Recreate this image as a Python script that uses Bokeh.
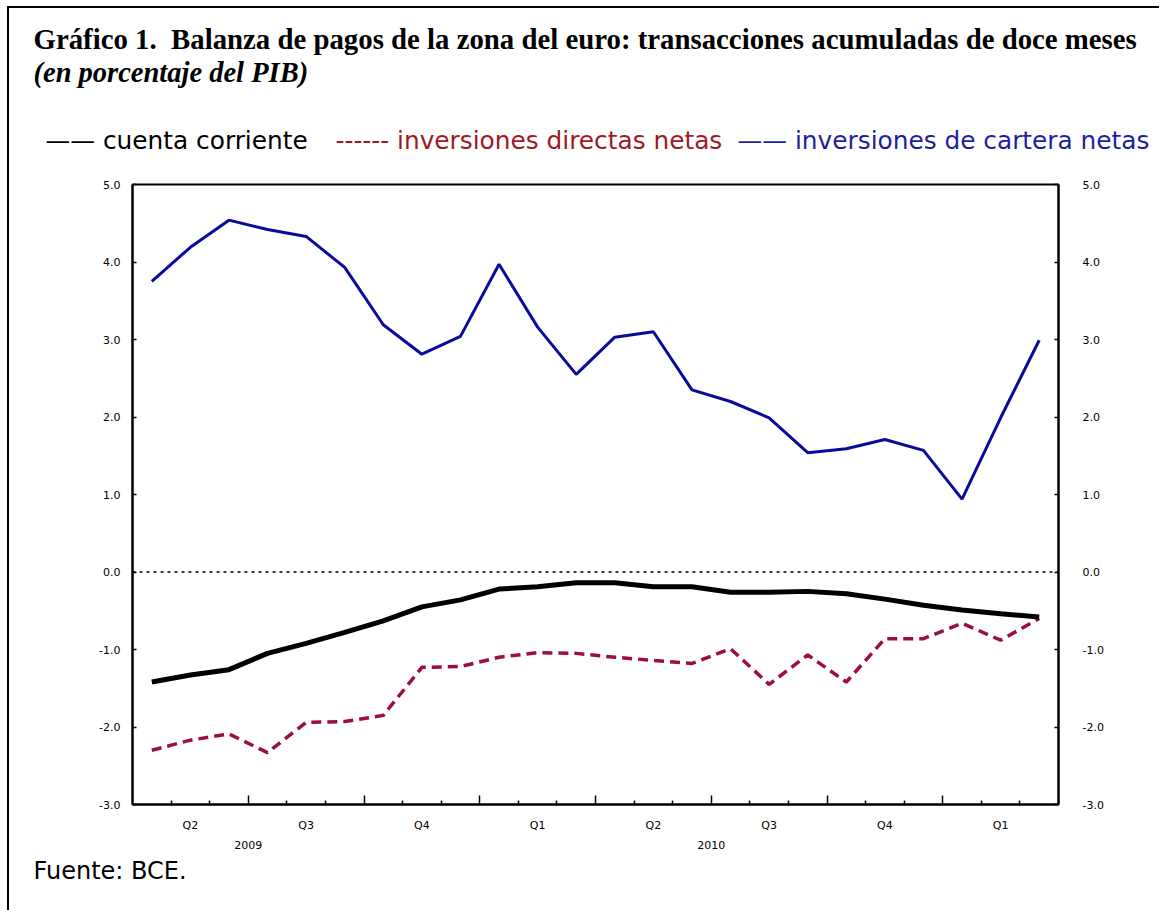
from bokeh.plotting import figure
from bokeh.layouts import column
from bokeh.models import LinearAxis, FixedTicker, Span, Label, Range1d, NumeralTickFormatter
from bokeh.embed import file_html
from bokeh.resources import INLINE

# ---- data (12-month cumulated transactions, % of GDP) ----
meses = ["abr-09", "may-09", "jun-09", "jul-09", "ago-09", "sep-09", "oct-09", "nov-09",
         "dic-09", "ene-10", "feb-10", "mar-10", "abr-10", "may-10", "jun-10", "jul-10",
         "ago-10", "sep-10", "oct-10", "nov-10", "dic-10", "ene-11", "feb-11", "mar-11"]
cuenta_corriente = [-1.42, -1.33, -1.26, -1.05, -0.92, -0.78, -0.63, -0.45,
                    -0.36, -0.22, -0.19, -0.14, -0.14, -0.19, -0.19, -0.26,
                    -0.26, -0.25, -0.28, -0.35, -0.43, -0.49, -0.54, -0.58]
inversiones_directas = [-2.30, -2.17, -2.09, -2.33, -1.94, -1.93, -1.85, -1.23,
                        -1.22, -1.10, -1.04, -1.05, -1.10, -1.14, -1.18, -0.99,
                        -1.45, -1.07, -1.42, -0.86, -0.86, -0.66, -0.88, -0.60]
inversiones_cartera = [3.75, 4.19, 4.54, 4.42, 4.33, 3.93, 3.19, 2.81,
                       3.04, 3.97, 3.16, 2.55, 3.03, 3.10, 2.35, 2.20,
                       1.99, 1.54, 1.59, 1.71, 1.57, 0.94, 1.99, 2.99]
trimestres = ["Q2", "Q3", "Q4", "Q1", "Q2", "Q3", "Q4", "Q1"]
anios = ["2009", "2010"]
y_ticks = [-3, -2, -1, 0, 1, 2, 3, 4, 5]

titulo = "Gráfico 1.\u00a0 Balanza de pagos de la zona del euro: transacciones acumuladas de doce meses"
subtitulo = "(en porcentaje del PIB)"
leyenda = ["—— cuenta corriente", "------ inversiones directas netas",
           "—— inversiones de cartera netas"]
colores_leyenda = ["black", "#9e1a1f", "#1f1f9e"]
fuente = "Fuente: BCE."

n = len(meses)
x = [i + 0.5 for i in range(n)]  # mid-month positions

W = 1150
TICK_FONT = "DejaVu Sans"


def blank(height):
    f = figure(width=W, height=height, output_backend="svg", toolbar_location=None,
               x_range=Range1d(0, W), y_range=Range1d(height, 0),
               x_axis_type=None, y_axis_type=None, min_border=0)
    f.outline_line_color = None
    f.background_fill_color = "white"
    f.border_fill_color = "white"
    f.frame_align = False
    return f


def lab(f, txt, px, py, font, size, color="black", style="normal"):
    f.add_layout(Label(x=px, y=py, text=txt, text_font=font, text_font_size=size,
                       text_color=color, text_font_style=style,
                       text_align="left", text_baseline="middle"))


# ---- header ----
header = blank(162)
lab(header, titulo, 24, 30, "Liberation Serif", "28.8px", style="bold")
lab(header, subtitulo, 24, 64, "Liberation Serif", "28.5px", style="bold italic")
for txt, col, px in zip(leyenda, colores_leyenda, [36, 326, 728]):
    lab(header, txt, px, 132, "DejaVu Sans", "24.8px", col)

# ---- main chart ----
p = figure(width=W, height=682, output_backend="svg", toolbar_location=None,
           x_range=Range1d(0, n), y_range=Range1d(-3, 5),
           x_axis_type=None, y_axis_type=None,
           min_border_left=123, min_border_right=101,
           min_border_top=14, min_border_bottom=48)
p.outline_line_color = "black"
p.outline_line_width = 2
p.background_fill_color = "white"
p.border_fill_color = "white"
p.frame_align = False

quarter_bounds = list(range(3, n, 3))
month_minor = [m for m in range(1, n) if m % 3]
ax_ticks = LinearAxis(ticker=FixedTicker(ticks=quarter_bounds, minor_ticks=month_minor),
                      major_tick_in=9, major_tick_out=0, minor_tick_in=4, minor_tick_out=0,
                      major_label_overrides={m: "" for m in quarter_bounds},
                      major_label_text_font_size="1px", major_label_standoff=0,
                      axis_line_width=2, major_tick_line_width=1.5, minor_tick_line_width=1.5)
p.add_layout(ax_ticks, "below")

q_pos = [1.5 + 3 * k for k in range(len(trimestres))]
ax_q = LinearAxis(ticker=FixedTicker(ticks=q_pos, minor_ticks=[]),
                  major_label_overrides={q: t for q, t in zip(q_pos, trimestres)},
                  axis_line_color=None, major_tick_line_color=None, minor_tick_line_color=None,
                  major_label_standoff=8, major_label_text_font=TICK_FONT,
                  major_label_text_font_size="11px", major_label_text_color="black")
p.add_layout(ax_q, "below")

y_pos = [3, 15]
ax_y = LinearAxis(ticker=FixedTicker(ticks=y_pos, minor_ticks=[]),
                  major_label_overrides={v: t for v, t in zip(y_pos, anios)},
                  axis_line_color=None, major_tick_line_color=None, minor_tick_line_color=None,
                  major_label_standoff=0, major_label_text_font=TICK_FONT,
                  major_label_text_font_size="11px", major_label_text_color="black")
p.add_layout(ax_y, "below")

for side in ("left", "right"):
    ax = LinearAxis(ticker=FixedTicker(ticks=y_ticks, minor_ticks=[]),
                    formatter=NumeralTickFormatter(format="0.0"),
                    major_tick_in=4, major_tick_out=0, minor_tick_line_color=None,
                    axis_line_width=2, major_tick_line_width=1.5,
                    major_label_text_font=TICK_FONT, major_label_text_font_size="11px",
                    major_label_text_color="black",
                    major_label_standoff=12 if side == "left" else 24)
    p.add_layout(ax, side)

p.add_layout(Span(location=0, dimension="width", line_color="black",
                  line_width=1.5, line_dash="3 4"))

p.line(x, inversiones_cartera, line_color="#0a0a9c", line_width=3)
p.line(x, inversiones_directas, line_color="#9c0f3a", line_width=3.5, line_dash="10 6")
p.line(x, cuenta_corriente, line_color="black", line_width=5)

# ---- footer ----
footer = blank(58)
lab(footer, fuente, 24, 18, "DejaVu Sans", "24px")

layout = column(header, p, footer, spacing=0)
layout.styles = {"margin-left": "7px", "margin-top": "6px",
                 "border-left": "2px solid black", "border-top": "2px solid black"}

open("out.html", "w").write(file_html(layout, INLINE))
